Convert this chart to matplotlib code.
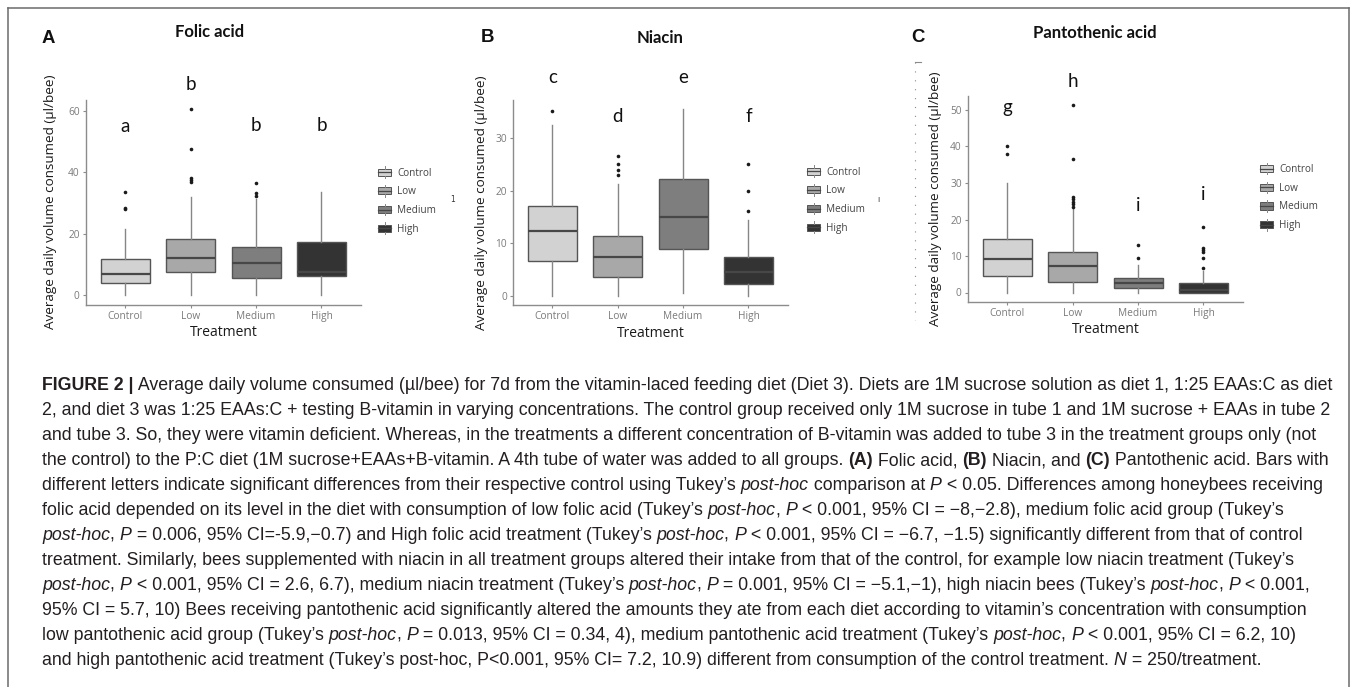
import re
import matplotlib
matplotlib.use("Agg")
import matplotlib.pyplot as plt
from matplotlib.patches import Patch, Rectangle
from matplotlib.lines import Line2D
from matplotlib.legend_handler import HandlerPatch
from matplotlib import font_manager

W, H = 1357, 687

treatments = ["Control", "Low", "Medium", "High"]

# Folic acid
folic_q1 = [4.0, 7.5, 5.6, 6.4]
folic_med = [7.0, 12.3, 10.5, 7.5]
folic_q3 = [11.8, 18.4, 15.9, 17.5]
folic_lo = [0.0, 0.0, 0.0, 0.0]
folic_hi = [21.6, 31.9, 31.5, 33.8]
folic_fliers = [[28.0, 28.6, 33.8], [37.0, 37.6, 38.2, 47.7, 60.7], [32.2, 33.2, 36.7], []]
folic_letters = ["a", "b", "b", "b"]
folic_letter_y = [53.3, 66.8, 53.6, 53.6]

# Niacin
niacin_q1 = [6.6, 3.6, 9.0, 2.3]
niacin_med = [12.3, 7.4, 15.1, 4.5]
niacin_q3 = [17.2, 11.3, 22.2, 7.3]
niacin_lo = [0.0, 0.0, 0.5, 0.0]
niacin_hi = [32.5, 21.3, 35.6, 14.4]
niacin_fliers = [[35.2], [23.1, 24.0, 25.2, 26.7], [], [16.2, 20.0, 25.2]]
niacin_letters = ["c", "d", "e", "f"]
niacin_letter_y = [40.5, 33.2, 40.5, 33.2]

# Pantothenic acid
panto_q1 = [4.6, 3.0, 1.2, 0.0]
panto_med = [9.2, 7.3, 2.5, 0.8]
panto_q3 = [14.7, 11.2, 4.0, 2.6]
panto_lo = [0.0, 0.0, 0.0, 0.0]
panto_hi = [29.9, 22.8, 7.5, 6.0]
panto_fliers = [[37.9, 40.2], [23.5, 24.2, 24.8, 25.5, 26.2, 36.5, 51.3], [9.5, 13.0],
                [6.8, 9.5, 11.0, 11.6, 12.3, 18.0]]
panto_letters = ["g", "h", "i", "i"]
panto_letter_y = [49.3, 56.2, 22.4, 25.3]

caption_lines = [
    "**FIGURE 2 |** Average daily volume consumed (µl/bee) for 7d from the vitamin-laced feeding diet (Diet 3). Diets are 1M sucrose solution as diet 1, 1:25 EAAs:C as diet",
    "2, and diet 3 was 1:25 EAAs:C + testing B-vitamin in varying concentrations. The control group received only 1M sucrose in tube 1 and 1M sucrose + EAAs in tube 2",
    "and tube 3. So, they were vitamin deficient. Whereas, in the treatments a different concentration of B-vitamin was added to tube 3 in the treatment groups only (not",
    "the control) to the P:C diet (1M sucrose+EAAs+B-vitamin. A 4th tube of water was added to all groups. **(A)** Folic acid, **(B)** Niacin, and **(C)** Pantothenic acid. Bars with",
    "different letters indicate significant differences from their respective control using Tukey’s *post-hoc* comparison at *P* < 0.05. Differences among honeybees receiving",
    "folic acid depended on its level in the diet with consumption of low folic acid (Tukey’s *post-hoc*, *P* < 0.001, 95% CI = −8,−2.8), medium folic acid group (Tukey’s",
    "*post-hoc*, *P* = 0.006, 95% CI=-5.9,−0.7) and High folic acid treatment (Tukey’s *post-hoc*, *P* < 0.001, 95% CI = −6.7, −1.5) significantly different from that of control",
    "treatment. Similarly, bees supplemented with niacin in all treatment groups altered their intake from that of the control, for example low niacin treatment (Tukey’s",
    "*post-hoc*, *P* < 0.001, 95% CI = 2.6, 6.7), medium niacin treatment (Tukey’s *post-hoc*, *P* = 0.001, 95% CI = −5.1,−1), high niacin bees (Tukey’s *post-hoc*, *P* < 0.001,",
    "95% CI = 5.7, 10) Bees receiving pantothenic acid significantly altered the amounts they ate from each diet according to vitamin’s concentration with consumption",
    "low pantothenic acid group (Tukey’s *post-hoc*, *P* = 0.013, 95% CI = 0.34, 4), medium pantothenic acid treatment (Tukey’s *post-hoc*, *P* < 0.001, 95% CI = 6.2, 10)",
    "and high pantothenic acid treatment (Tukey’s post-hoc, P<0.001, 95% CI= 7.2, 10.9) different from consumption of the control treatment. *N* = 250/treatment.",
]

fills = ["#d2d2d2", "#a8a8a8", "#7e7e7e", "#333333"]
edge = "#555555"
axis_grey = "#8c8c8c"

fig = plt.figure(figsize=(W / 100, H / 100), dpi=100)


def fx(px):
    return px / W


def fy(py):
    return 1 - py / H


class BoxKey(HandlerPatch):
    # small boxplot glyph like the ggplot legend key
    def create_artists(self, legend, orig_handle, xdescent, ydescent, width, height,
                       fontsize, trans):
        x0, y0 = -xdescent, -ydescent
        cx = x0 + width / 2
        box = Rectangle((x0, y0 + 0.12 * height), width, 0.76 * height,
                        facecolor=orig_handle.get_facecolor(), edgecolor=edge, lw=0.7,
                        transform=trans)
        mid = Line2D([x0, x0 + width], [y0 + 0.5 * height] * 2, color="#474747", lw=0.9,
                     transform=trans)
        w1 = Line2D([cx, cx], [y0 - 0.1 * height, y0 + 0.12 * height], color="#868686", lw=0.7,
                    transform=trans)
        w2 = Line2D([cx, cx], [y0 + 0.88 * height, y0 + 1.1 * height], color="#868686", lw=0.7,
                    transform=trans)
        return [box, mid, w1, w2]


panels = [
    dict(tag="A", title="Folic acid", q1=folic_q1, med=folic_med, q3=folic_q3, lo=folic_lo,
         hi=folic_hi, fl=folic_fliers, let=folic_letters, let_y=folic_letter_y,
         yticks=[0, 20, 40, 60], left=86, zero=295.5, unit=3.075,
         tag_xy=(48, 42.7), title_xy=(210, 36.7), ylab_x=51, leg_xy=(378, 201), mark=(453, 200, "1")),
    dict(tag="B", title="Niacin", q1=niacin_q1, med=niacin_med, q3=niacin_q3, lo=niacin_lo,
         hi=niacin_hi, fl=niacin_fliers, let=niacin_letters, let_y=niacin_letter_y,
         yticks=[0, 10, 20, 30], left=513, zero=295.8, unit=5.25,
         tag_xy=(487, 42.3), title_xy=(660, 43.3), ylab_x=482, leg_xy=(807, 200), mark=(878, 200, "ı")),
    dict(tag="C", title="Pantothenic acid", q1=panto_q1, med=panto_med, q3=panto_q3, lo=panto_lo,
         hi=panto_hi, fl=panto_fliers, let=panto_letters, let_y=panto_letter_y,
         yticks=[0, 10, 20, 30, 40, 50], left=968, zero=292.5, unit=3.65,
         tag_xy=(918, 41.7), title_xy=(1095, 37.7), ylab_x=935, leg_xy=(1260, 197.5), mark=None),
]

cat_px = 65.4

for p in panels:
    top_val = max(max(p["hi"]), max([max(f) if f else 0 for f in p["fl"]]))
    bot_val = min(p["lo"])
    pad = 0.05 * (top_val - bot_val)
    ylo, yhi = bot_val - pad, top_val + pad
    top_px = p["zero"] - yhi * p["unit"]
    bot_px = p["zero"] - ylo * p["unit"]
    width_px = 4.2 * cat_px
    ax = fig.add_axes([fx(p["left"]), fy(bot_px), width_px / W, (bot_px - top_px) / H])

    stats = []
    for i, t in enumerate(treatments):
        stats.append(dict(q1=p["q1"][i], med=p["med"][i], q3=p["q3"][i], whislo=p["lo"][i],
                          whishi=p["hi"][i], fliers=p["fl"][i], label=t))
    bp = ax.bxp(stats, positions=[1, 2, 3, 4], widths=0.75, patch_artist=True, showcaps=False,
                boxprops=dict(edgecolor=edge, linewidth=1.0),
                medianprops=dict(color="#474747", linewidth=1.6),
                whiskerprops=dict(color="#868686", linewidth=1.0),
                flierprops=dict(marker="o", markersize=2.6, markerfacecolor="#1a1a1a",
                                markeredgecolor="none"))
    for patch, c in zip(bp["boxes"], fills):
        patch.set_facecolor(c)

    ax.set_xlim(0.4, 4.6)
    ax.set_ylim(ylo, yhi)
    ax.set_yticks(p["yticks"])
    ax.set_xticks([1, 2, 3, 4])
    ax.set_xticklabels(treatments)
    for s in ["top", "right"]:
        ax.spines[s].set_visible(False)
    for s in ["left", "bottom"]:
        ax.spines[s].set_color(axis_grey)
        ax.spines[s].set_linewidth(1.0)
    ax.tick_params(length=2.5, width=0.8, color=axis_grey, labelsize=7.3,
                   labelcolor="#7a7a7a", pad=2)
    for lab in ax.get_xticklabels() + ax.get_yticklabels():
        lab.set_family("Open Sans")
    ax.set_facecolor("none")

    for i, (l, ly) in enumerate(zip(p["let"], p["let_y"])):
        ax.text(i + 1, ly, l, ha="center", va="baseline", fontsize=13.5, family="Lato",
                color="#111111", clip_on=False)

    fig.text(fx(p["tag_xy"][0]), fy(p["tag_xy"][1]), p["tag"], ha="center", va="baseline",
             fontsize=13.4, fontweight="bold", family="Liberation Sans", color="#111111")
    fig.text(fx(p["title_xy"][0]), fy(p["title_xy"][1]), p["title"], ha="center", va="baseline",
             fontsize=12, fontweight="bold", family="Lato", color="#111111")
    fig.text(fx(p["ylab_x"]), fy((top_px + bot_px) / 2), "Average daily volume consumed (µl/bee)",
             rotation=90, ha="center", va="center", fontsize=9.7, family="Open Sans",
             color="#1a1a1a")
    fig.text(fx(p["left"] + width_px / 2), fy(bot_px + 28), "Treatment", ha="center",
             va="center", fontsize=10, family="Open Sans", color="#1a1a1a")

    handles = [Patch(facecolor=c, edgecolor=edge, linewidth=0.8, label=t)
               for c, t in zip(fills, treatments)]
    leg = fig.legend(handles=handles, loc="center left",
                     bbox_to_anchor=(fx(p["leg_xy"][0]), fy(p["leg_xy"][1])),
                     frameon=False, handlelength=1.3, handleheight=1.1, handletextpad=0.6,
                     labelspacing=0.75, borderpad=0, borderaxespad=0,
                     handler_map={Patch: BoxKey()},
                     prop=dict(family="Open Sans", size=7.2))
    for txt in leg.get_texts():
        txt.set_color("#444444")
    if p["mark"]:
        fig.text(fx(p["mark"][0]), fy(p["mark"][1]), p["mark"][2], ha="center", va="center",
                 fontsize=5.5, color="#333333")

# faint dotted scan artifact on the left of panel C
fig.add_artist(Line2D([fx(915), fx(915)], [fy(62), fy(320)], color="#8a8a8a", lw=0.8,
                      linestyle=(0, (1, 7)), transform=fig.transFigure))
fig.add_artist(Line2D([fx(915), fx(921)], [fy(62), fy(62)], color="#8a8a8a", lw=0.8,
                      transform=fig.transFigure))

# frame around the figure
for xs, ys in [([8, 8], [8, H + 2]), ([8, 1349], [8, 8]), ([1349, 1349], [8, H + 2])]:
    fig.add_artist(Line2D([fx(v) for v in xs], [fy(v) for v in ys], color="#6b6b6b", lw=1.1,
                          transform=fig.transFigure))

# caption
names = {f.name for f in font_manager.fontManager.ttflist}
cap_family = "Liberation Sans Narrow" if "Liberation Sans Narrow" in names else "Liberation Sans"

renderer = fig.canvas.get_renderer()


def parse(line):
    segs = []
    for part in re.split(r"(\*\*.+?\*\*|\*.+?\*)", line):
        if not part:
            continue
        if part.startswith("**"):
            segs.append((part[2:-2], "bold"))
        elif part.startswith("*"):
            segs.append((part[1:-1], "italic"))
        else:
            segs.append((part, "normal"))
    return segs


def style_kw(style, size):
    kw = dict(fontsize=size, family=cap_family)
    if style == "bold":
        kw["fontweight"] = "bold"
    if style == "italic":
        kw["fontstyle"] = "italic"
    return kw


def advance(s, style, size):
    t1 = fig.text(0, 0, s + "|", **style_kw(style, size))
    t2 = fig.text(0, 0, "|", **style_kw(style, size))
    w = t1.get_window_extent(renderer).width - t2.get_window_extent(renderer).width
    t1.remove()
    t2.remove()
    return w


base = 10.0
widest = max(sum(advance(s, st, base) for s, st in parse(line)) for line in caption_lines)
cap_size = base * 1296 / widest

y0, dy = 390, 25.0
for k, line in enumerate(caption_lines):
    x = 42.0
    for s, st in parse(line):
        fig.text(fx(x), fy(y0 + k * dy), s, ha="left", va="baseline", color="#231f20",
                 **style_kw(st, cap_size))
        x += advance(s, st, cap_size)

fig.savefig("out.png", dpi=100)
